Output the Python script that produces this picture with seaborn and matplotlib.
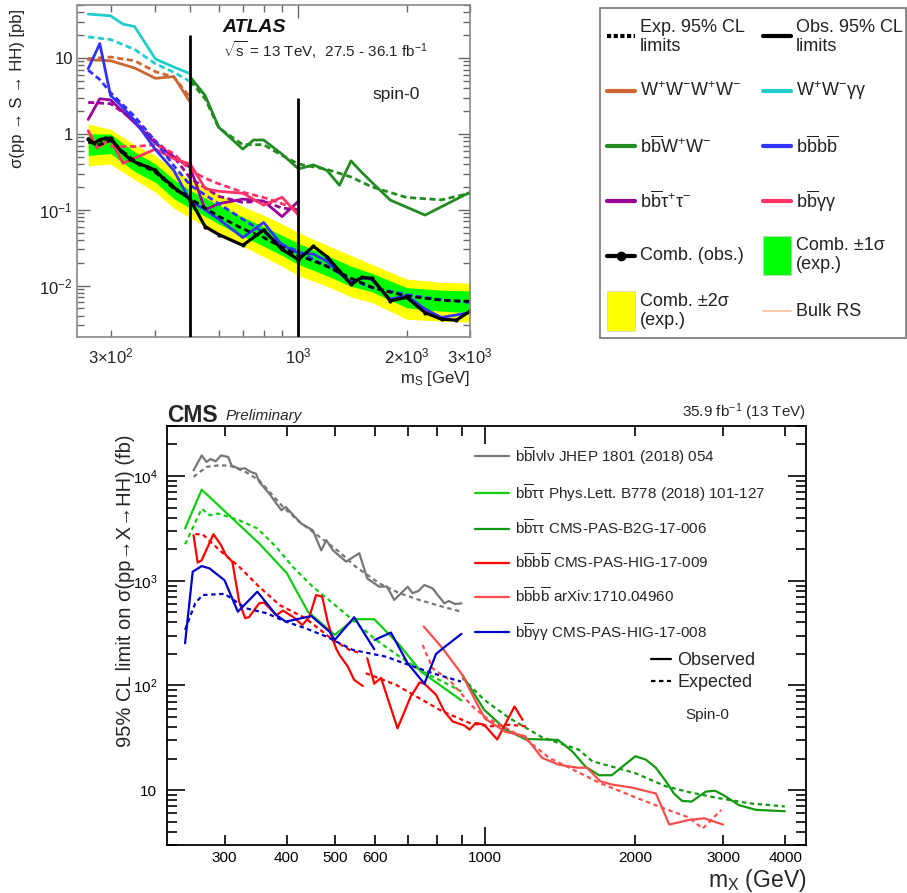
import numpy as np
import pandas as pd
import matplotlib
matplotlib.use("Agg")
import matplotlib.pyplot as plt
import seaborn as sns
from matplotlib.ticker import FixedLocator, FuncFormatter, LogLocator, NullFormatter
from matplotlib.patches import Rectangle
from matplotlib.lines import Line2D

# ---------------- ATLAS data (pb) ----------------
atlas_band_m = [260, 300, 350, 400, 450, 500, 600, 700, 800, 900, 1000, 1200, 1400, 1600, 2000, 2500, 3000]
atlas_y_hi = [1.35, 1.15, 0.72, 0.52, 0.33, 0.25, 0.16, 0.11, 0.085, 0.065, 0.050, 0.034, 0.025, 0.019, 0.0122, 0.011, 0.0108]
atlas_g_hi = [1.0, 1.0, 0.58, 0.40, 0.25, 0.18, 0.115, 0.080, 0.060, 0.046, 0.036, 0.025, 0.018, 0.0145, 0.0094, 0.0087, 0.0085]
atlas_g_lo = [0.52, 0.55, 0.32, 0.23, 0.14, 0.105, 0.065, 0.045, 0.033, 0.025, 0.019, 0.0135, 0.0098, 0.0083, 0.0051, 0.0046, 0.0044]
atlas_y_lo = [0.38, 0.40, 0.25, 0.17, 0.105, 0.078, 0.048, 0.033, 0.024, 0.018, 0.0135, 0.0098, 0.0071, 0.0060, 0.0036, 0.0034, 0.0033]

comb_exp_m = [260, 280, 300, 320, 350, 400, 450, 500, 550, 600, 700, 800, 900, 1000, 1200, 1400, 1600, 1800, 2000, 2500, 3000]
comb_exp = [0.78, 0.72, 0.82, 0.62, 0.44, 0.31, 0.19, 0.14, 0.105, 0.082, 0.056, 0.043, 0.032, 0.025, 0.018, 0.0125, 0.0095, 0.0082, 0.0073, 0.0064, 0.0062]
comb_obs_m = [260, 270, 280, 290, 300, 320, 340, 360, 380, 400, 420, 440, 460, 480, 500, 550, 600, 700, 800, 900,
              1000, 1100, 1200, 1300, 1400, 1500, 1600, 1800, 2000, 2250, 2500, 2750, 3000]
comb_obs = [0.86, 0.75, 0.84, 0.87, 0.88, 0.60, 0.46, 0.40, 0.37, 0.33, 0.26, 0.22, 0.18, 0.16, 0.135, 0.060, 0.047, 0.034, 0.054, 0.030,
            0.022, 0.033, 0.024, 0.0156, 0.0104, 0.0128, 0.0125, 0.0063, 0.0070, 0.0044, 0.0036, 0.0035, 0.0046]

wwyy_m = [260, 300, 325, 350, 400, 450, 500]
wwyy_obs = [38, 36, 28, 26, 9.7, 7.6, 6.2]
wwyy_exp_m = [260, 300, 350, 400, 450, 500]
wwyy_exp = [19, 17.5, 13, 8.4, 6.5, 4.9]

wwww_m = [260, 300, 320, 350, 400, 450, 500]
wwww_obs = [9.5, 9.2, 8.4, 7.4, 5.4, 5.7, 2.6]
wwww_exp_m = [260, 300, 350, 400, 450, 500]
wwww_exp = [9.8, 10.3, 9.2, 6.6, 5.6, 3.0]

bbww_m = [500, 550, 600, 700, 750, 800, 900, 1000, 1100, 1200, 1300, 1400, 1500, 1800, 2250, 3000]
bbww_obs = [5.6, 3.2, 1.22, 0.63, 0.83, 0.83, 0.54, 0.345, 0.39, 0.33, 0.21, 0.44, 0.31, 0.134, 0.085, 0.17]
bbww_exp_m = [500, 550, 600, 700, 800, 900, 1000, 1200, 1400, 1600, 2000, 2500, 3000]
bbww_exp = [5.0, 2.9, 1.2, 0.72, 0.72, 0.52, 0.40, 0.34, 0.27, 0.20, 0.145, 0.135, 0.165]

bbbb_m = [260, 280, 300, 320, 350, 400, 450, 500, 550, 600, 700, 800, 900, 1000, 1100, 1200, 1300, 1400, 1500, 1600, 1800, 2000, 2250, 2500, 3000]
bbbb_obs = [7.2, 15.5, 3.2, 2.4, 1.5, 0.62, 0.33, 0.13, 0.10, 0.075, 0.043, 0.068, 0.034, 0.027, 0.026, 0.021, 0.0145, 0.011, 0.0128, 0.012, 0.0066, 0.0074, 0.0049, 0.0038, 0.0044]
bbbb_exp_m = [260, 280, 300, 350, 400, 450, 500, 600, 700, 800, 900, 1000, 1200, 1400, 1600, 2000, 2500, 3000]
bbbb_exp = [6.9, 5.2, 3.5, 1.7, 0.8, 0.38, 0.21, 0.12, 0.075, 0.05, 0.035, 0.028, 0.018, 0.012, 0.0094, 0.0076, 0.0065, 0.006]

bbtt_m = [260, 280, 300, 350, 400, 450, 500, 550, 600, 700, 800, 900, 1000]
bbtt_obs = [1.55, 2.9, 2.8, 1.4, 0.75, 0.5, 0.36, 0.10, 0.12, 0.138, 0.13, 0.081, 0.13]
bbtt_exp_m = [260, 300, 350, 400, 450, 500, 600, 700, 800, 900, 1000]
bbtt_exp = [2.6, 2.5, 1.5, 0.8, 0.5, 0.26, 0.15, 0.125, 0.13, 0.105, 0.10]

bbyy_m = [260, 275, 300, 325, 400, 450, 500, 550, 600, 700, 800, 900, 1000]
bbyy_obs = [1.1, 0.65, 0.85, 0.41, 0.63, 0.47, 0.40, 0.19, 0.175, 0.165, 0.115, 0.146, 0.085]
bbyy_exp_m = [300, 350, 400, 450, 500, 550, 600, 700, 800, 900, 1000]
bbyy_exp = [0.68, 0.68, 0.72, 0.55, 0.33, 0.26, 0.22, 0.17, 0.145, 0.12, 0.10]

atlas_div_m = [500, 1000]
atlas_div_top = [20, 3]

# ---------------- CMS data (fb) ----------------
blv_m = [260, 270, 276, 281, 288, 295, 305, 310, 321, 330, 339, 347, 352, 369, 390, 398, 427, 451, 469, 480, 495, 526, 559, 580,
         613, 635, 657, 678, 699, 715, 735, 755, 784, 828, 845, 870, 896]
blv_obs = [11300, 15700, 13600, 14500, 13800, 15700, 15200, 12600, 11700, 11800, 10900, 10500, 8800, 6760, 4710, 5060, 3530, 3030,
           1950, 2440, 1950, 1520, 1830, 1050, 876, 880, 656, 760, 876, 760, 800, 910, 846, 608, 640, 600, 608]
blv_exp_m = [260, 276, 291, 307, 331, 352, 393, 424, 465, 510, 550, 613, 673, 738, 821, 896]
blv_exp = [9800, 12200, 12600, 12600, 10900, 9100, 5060, 3650, 2630, 1880, 1360, 944, 760, 655, 565, 506]

tt1_m = [250, 270, 352, 400, 441, 499, 546, 599, 673, 743, 896]
tt1_obs = [3160, 7400, 2270, 1180, 506, 304, 429, 429, 244, 136, 72]
tt1_exp_m = [250, 270, 280, 291, 321, 349, 381, 411, 451, 495, 542, 604, 673, 749, 834, 896]
tt1_exp = [2230, 4870, 4220, 4380, 3780, 3160, 2100, 1360, 876, 608, 423, 272, 189, 136, 105, 88]

tt2_m = [900, 995, 1100, 1200, 1400, 1495, 1591, 1692, 1794, 2000, 2100, 2199, 2303, 2391, 2483, 2595, 2770, 2890, 3015, 3230, 3490, 3990]
tt2_obs = [126, 58.7, 37.9, 30.9, 30.2, 23.5, 16.7, 13.9, 13.9, 21.1, 19.6, 16.4, 12.2, 9.3, 7.9, 7.8, 9.7, 9.9, 8.9, 7.2, 6.5, 6.3]
tt2_exp_m = [900, 995, 1117, 1300, 1540, 1640, 1830, 2003, 2303, 2560, 2900, 3380, 3990]
tt2_exp = [118, 73, 49, 32, 24.4, 18.9, 16.4, 14.5, 10.9, 9.6, 8.5, 7.5, 7.0]

b4a_m1 = [260, 265, 270, 285, 295, 302, 311, 321, 330, 336, 352, 360, 381, 393, 411, 430, 444, 458, 471, 483, 495, 502, 510, 530, 546, 568]
b4a_obs1 = [2720, 1490, 1570, 2780, 2200, 1750, 1520, 630, 439, 450, 608, 620, 470, 518, 454, 378, 454, 730, 705, 407, 272, 227, 196, 152, 113, 99]
b4a_m2 = [580, 599, 618, 667, 709, 727, 738, 755, 797, 828, 860, 909, 930, 958, 995, 1057, 1145, 1188]
b4a_obs2 = [182, 104, 118, 39, 78.6, 94.5, 107, 104, 81.6, 56.6, 45.4, 41.4, 37.9, 43.9, 42.2, 30.5, 63, 47]
b4a_exp_m1 = [262, 271, 293, 321, 352, 387, 424, 436, 495, 534, 563]
b4a_exp1 = [2780, 2780, 1960, 1360, 876, 585, 470, 439, 272, 219, 203]
b4a_exp_m2 = [576, 662, 727, 821, 930, 1018, 1117, 1207]
b4a_exp2 = [131, 101.6, 78.6, 56.6, 43.9, 40.7, 42.2, 40.7]

b4b_m = [753, 821, 900, 958, 1000, 1100, 1200, 1300, 1400, 1530, 1600, 1700, 1800, 1970, 2200, 2340, 2560, 2750, 3000]
b4b_obs = [365, 227, 126, 70, 48, 36, 33, 20.4, 17.6, 16.4, 16.4, 12.2, 11.3, 10.6, 9.3, 4.7, 5.2, 5.4, 4.7]
b4b_exp_m = [749, 784, 847, 943, 1000, 1197, 1343, 1474, 1692, 1971, 2265, 2560, 2730, 2976]
b4b_exp = [244, 146, 113, 63, 50, 31.6, 20.4, 16.4, 11.8, 8.8, 6.8, 5.5, 4.3, 6.5]

byy_m1 = [250, 259, 270, 280, 300, 319, 349, 381, 398, 448, 487, 499, 546, 599]
byy_obs1 = [253, 1220, 1380, 1310, 1010, 506, 786, 470, 407, 460, 327, 272, 448, 222]
byy_m2 = [600, 647, 699, 755, 797, 828, 896]
byy_obs2 = [272, 320, 163, 104, 200, 232, 311]
byy_exp_m = [250, 262, 271, 300, 331, 364, 398, 436, 480, 542, 633, 673, 784, 894]
byy_exp = [340, 608, 730, 750, 546, 490, 407, 352, 293, 219, 188, 169, 131, 109]

# ---------------- style ----------------
sns.set_theme(style="ticks")
plt.rcParams['font.family'] = ['Liberation Sans', 'DejaVu Sans']
plt.rcParams['mathtext.fontset'] = 'custom'
plt.rcParams['mathtext.rm'] = 'Liberation Sans'
plt.rcParams['mathtext.it'] = 'Liberation Sans:italic'
plt.rcParams['mathtext.bf'] = 'Liberation Sans:bold'
plt.rcParams['mathtext.sf'] = 'Liberation Sans'
plt.rcParams['axes.facecolor'] = 'white'

W, H = 907, 893
fig = plt.figure(figsize=(W / 100, H / 100), dpi=100)


def fx(p):
    return p / W


def fy(p):
    return 1 - p / H


def line(ax, x, y, color, ls='-', lw=2.0, **kw):
    sns.lineplot(x=x, y=y, ax=ax, color=color, linestyle=ls, linewidth=lw,
                 estimator=None, sort=False, legend=False, **kw)


BB = r'$\mathrm{b\overline{b}}$'
BBBB = r'$\mathrm{b\overline{b}b\overline{b}}$'

# ============ ATLAS panel ============
ax1 = fig.add_axes([fx(77), fy(337), fx(470) - fx(77), fy(5) - fy(337)])
ax1.set_xscale('log')
ax1.set_yscale('log')

C_WWWW = '#cc6633'
C_WWYY = '#22cccc'
C_BBWW = '#228b22'
C_BBBB = '#3333ff'
C_BBTT = '#990099'
C_BBYY = '#ff3366'

ax1.fill_between(atlas_band_m, atlas_y_lo, atlas_y_hi, color='#ffff00', lw=0, zorder=1)
ax1.fill_between(atlas_band_m, atlas_g_lo, atlas_g_hi, color='#00ff00', lw=0, zorder=1)

ad = (0, (2.2, 1.3))
alw = 2.0
line(ax1, wwyy_m, wwyy_obs, C_WWYY, lw=alw)
line(ax1, wwyy_exp_m, wwyy_exp, C_WWYY, ls=ad, lw=alw)
line(ax1, wwww_m, wwww_obs, C_WWWW, lw=alw)
line(ax1, wwww_exp_m, wwww_exp, C_WWWW, ls=ad, lw=alw)
line(ax1, bbww_m, bbww_obs, C_BBWW, lw=alw)
line(ax1, bbww_exp_m, bbww_exp, C_BBWW, ls=ad, lw=alw)
line(ax1, bbtt_m, bbtt_obs, C_BBTT, lw=alw)
line(ax1, bbtt_exp_m, bbtt_exp, C_BBTT, ls=ad, lw=alw)
line(ax1, bbyy_m, bbyy_obs, C_BBYY, lw=alw)
line(ax1, bbyy_exp_m, bbyy_exp, C_BBYY, ls=ad, lw=alw)
line(ax1, bbbb_m, bbbb_obs, C_BBBB, lw=alw)
line(ax1, bbbb_exp_m, bbbb_exp, C_BBBB, ls=ad, lw=alw)
line(ax1, comb_exp_m, comb_exp, 'black', ls=ad, lw=alw)
line(ax1, comb_obs_m, comb_obs, 'black', lw=2.3, marker='o', markersize=3, markeredgewidth=0)

ax1.set_xlim(242, 3000)
ax1.set_ylim(0.0021, 50)
ax1.vlines(atlas_div_m, ax1.get_ylim()[0], atlas_div_top, color='black', lw=2, zorder=5)

ax1.xaxis.set_major_locator(FixedLocator([1000]))
ax1.xaxis.set_major_formatter(FuncFormatter(lambda v, p: r'10$^{3}$'))
ax1.xaxis.set_minor_locator(FixedLocator([300, 400, 500, 600, 700, 800, 900, 2000, 3000]))
xl_atlas = {300: r'3×10$^{2}$', 2000: r'2×10$^{3}$', 3000: r'3×10$^{3}$'}
ax1.xaxis.set_minor_formatter(FuncFormatter(lambda v, p: xl_atlas.get(int(round(v)), '')))
ax1.yaxis.set_major_locator(LogLocator(base=10, numticks=10))
yl_atlas = {-2: r'10$^{-2}$', -1: r'10$^{-1}$', 0: '1', 1: '10'}
ax1.yaxis.set_major_formatter(FuncFormatter(lambda v, p: yl_atlas.get(int(round(np.log10(v))), '')))
ax1.yaxis.set_minor_locator(LogLocator(base=10, subs=np.arange(2, 10), numticks=20))
ax1.yaxis.set_minor_formatter(NullFormatter())
ax1.tick_params(which='both', direction='in', top=True, right=True, color='#666666',
                labelcolor='#222222', labelsize=12)
ax1.tick_params(which='major', length=9, width=1)
ax1.tick_params(which='minor', length=5, width=1)
ax1.tick_params(axis='x', which='both', pad=7)
ax1.tick_params(axis='y', which='both', pad=3)
for s in ax1.spines.values():
    s.set_color('#888888')
    s.set_linewidth(1.2)
ax1.set_xlabel('')
ax1.set_ylabel('σ(pp → S → HH) [pb]', fontsize=12, color='#222222')
ax1.yaxis.set_label_coords(-0.133, 0.75)
fig.text(fx(470), fy(378), r'm$_{\mathrm{S}}$ [GeV]', ha='right', va='center', fontsize=12, color='#222222')
fig.text(fx(222), fy(27), 'ATLAS', ha='left', va='center', fontsize=14, fontweight='bold', fontstyle='italic', color='#111111')
fig.text(fx(223), fy(50), r'$\sqrt{\mathrm{s}}$ = 13 TeV,  27.5 - 36.1 fb$^{-1}$', ha='left', va='center', fontsize=11, color='#222222')
fig.text(fx(372), fy(95), 'spin-0', ha='left', va='center', fontsize=12.5, color='#222222')

# ============ ATLAS legend (separate box) ============
fig.add_artist(Rectangle((fx(600), fy(338)), fx(906) - fx(600), fy(8) - fy(338),
                         transform=fig.transFigure, fill=False, ec='#777777', lw=1.2))


def leg_line(x0, yc, color, ls='-', lw=3.0, marker=None):
    fig.add_artist(Line2D([fx(x0), fx(x0 + 28)], [fy(yc), fy(yc)], transform=fig.transFigure,
                          color=color, linestyle=ls, linewidth=lw))
    if marker:
        fig.add_artist(Line2D([fx(x0 + 14)], [fy(yc)], transform=fig.transFigure, color=color,
                              marker=marker, markersize=6, linestyle='none'))


def leg_patch(x0, y0, y1, color):
    fig.add_artist(Rectangle((fx(x0), fy(y1)), fx(x0 + 28) - fx(x0), fy(y0) - fy(y1),
                             transform=fig.transFigure, color=color, ec='#cccccc', lw=0.5))


def leg_text(x0, yc, s):
    fig.text(fx(x0), fy(yc), s, ha='left', va='center', fontsize=13, color='#222222', linespacing=1.2)


c1, c2 = 607, 763
leg_line(c1, 36, 'black', ls=(0, (1, 0.6)), lw=3)
leg_text(c1 + 33, 37, 'Exp. 95% CL\nlimits')
leg_line(c2, 36, 'black', lw=3)
leg_text(c2 + 33, 37, 'Obs. 95% CL\nlimits')
leg_line(c1, 91, C_WWWW)
leg_text(c1 + 33, 91, r'W$^{+}$W$^{-}$W$^{+}$W$^{-}$')
leg_line(c2, 91, C_WWYY)
leg_text(c2 + 33, 91, r'W$^{+}$W$^{-}$γγ')
leg_line(c1, 146, C_BBWW)
leg_text(c1 + 33, 146, BB + r'W$^{+}$W$^{-}$')
leg_line(c2, 146, C_BBBB)
leg_text(c2 + 33, 146, BBBB)
leg_line(c1, 201, C_BBTT)
leg_text(c1 + 33, 201, BB + r'τ$^{+}$τ$^{-}$')
leg_line(c2, 201, C_BBYY)
leg_text(c2 + 33, 201, BB + 'γγ')
leg_line(c1, 256, 'black', marker='o')
leg_text(c1 + 33, 256, 'Comb. (obs.)')
leg_patch(c2, 236, 275, '#00ff00')
leg_text(c2 + 33, 255, 'Comb. ±1σ\n(exp.)')
leg_patch(c1, 291, 331, '#ffff00')
leg_text(c1 + 33, 311, 'Comb. ±2σ\n(exp.)')
leg_line(c2, 311, '#ffbb99', lw=1.2)
leg_text(c2 + 33, 311, 'Bulk RS')

# ============ CMS panel ============
ax2 = fig.add_axes([fx(167), fy(845), fx(806) - fx(167), fy(426) - fy(845)])
ax2.set_xscale('log')
ax2.set_yscale('log')

C_GRAY = '#777777'
C_LG = '#11cc11'
C_DG = '#119911'
C_RED = '#ff0000'
C_LRED = '#ff4d4d'
C_BLUE = '#0000cc'
cd = (0, (2.0, 1.6))
clw = 1.6

line(ax2, blv_m, blv_obs, C_GRAY, lw=clw)
line(ax2, blv_exp_m, blv_exp, C_GRAY, ls=cd, lw=clw)
line(ax2, tt1_m, tt1_obs, C_LG, lw=clw)
line(ax2, tt1_exp_m, tt1_exp, C_LG, ls=cd, lw=clw)
line(ax2, tt2_m, tt2_obs, C_DG, lw=clw)
line(ax2, tt2_exp_m, tt2_exp, C_DG, ls=cd, lw=clw)
line(ax2, b4a_m1, b4a_obs1, C_RED, lw=clw)
line(ax2, b4a_m2, b4a_obs2, C_RED, lw=clw)
line(ax2, b4a_exp_m1, b4a_exp1, C_RED, ls=cd, lw=clw)
line(ax2, b4a_exp_m2, b4a_exp2, C_RED, ls=cd, lw=clw)
line(ax2, b4b_m, b4b_obs, C_LRED, lw=clw)
line(ax2, b4b_exp_m, b4b_exp, C_LRED, ls=cd, lw=clw)
line(ax2, byy_m1, byy_obs1, C_BLUE, lw=clw)
line(ax2, byy_m2, byy_obs2, C_BLUE, lw=clw)
line(ax2, byy_exp_m, byy_exp, C_BLUE, ls=cd, lw=clw)

ax2.set_xlim(230, 4400)
ax2.set_ylim(3, 30000)
ax2.xaxis.set_major_locator(FixedLocator([1000]))
ax2.xaxis.set_major_formatter(FuncFormatter(lambda v, p: '1000'))
ax2.xaxis.set_minor_locator(FixedLocator([300, 400, 500, 600, 700, 800, 900, 2000, 3000, 4000]))
xl_cms = {300: '300', 400: '400', 500: '500', 600: '600', 2000: '2000', 3000: '3000', 4000: '4000'}
ax2.xaxis.set_minor_formatter(FuncFormatter(lambda v, p: xl_cms.get(int(round(v)), '')))
ax2.yaxis.set_major_locator(LogLocator(base=10, numticks=10))
yl_cms = {1: '10', 2: r'10$^{2}$', 3: r'10$^{3}$', 4: r'10$^{4}$'}
ax2.yaxis.set_major_formatter(FuncFormatter(lambda v, p: yl_cms.get(int(round(np.log10(v))), '')))
ax2.yaxis.set_minor_locator(LogLocator(base=10, subs=np.arange(2, 10), numticks=20))
ax2.yaxis.set_minor_formatter(NullFormatter())
ax2.tick_params(which='both', direction='in', top=True, right=True, color='black',
                labelcolor='black', labelsize=11)
ax2.tick_params(which='major', length=13, width=1.2)
ax2.tick_params(which='minor', length=7, width=1.2)
ax2.tick_params(axis='x', which='both', pad=4)
ax2.tick_params(axis='y', which='both', pad=7)
for s in ax2.spines.values():
    s.set_color('black')
    s.set_linewidth(1.3)
ax2.set_xlabel('')
ax2.set_ylabel('95% CL limit on σ(pp→X→HH) (fb)', fontsize=14.5)
ax2.yaxis.set_label_coords(-0.05, 0.606)
fig.text(fx(806), fy(880), r'm$_{\mathrm{X}}$ (GeV)', ha='right', va='center', fontsize=16.5)
fig.text(fx(167), fy(415), 'CMS', ha='left', va='center', fontsize=16.5, fontweight='bold')
fig.text(fx(226), fy(416), 'Preliminary', ha='left', va='center', fontsize=11, fontstyle='italic')
fig.text(fx(806), fy(412), r'35.9 fb$^{-1}$ (13 TeV)', ha='right', va='center', fontsize=11)

cms_handles = [Line2D([], [], color=C_GRAY, lw=clw), Line2D([], [], color=C_LG, lw=clw),
               Line2D([], [], color=C_DG, lw=clw), Line2D([], [], color=C_RED, lw=clw),
               Line2D([], [], color=C_LRED, lw=clw), Line2D([], [], color=C_BLUE, lw=clw)]
cms_labels = [BB + 'lνlν JHEP 1801 (2018) 054',
              BB + 'ττ Phys.Lett. B778 (2018) 101-127',
              BB + 'ττ CMS-PAS-B2G-17-006',
              BBBB + ' CMS-PAS-HIG-17-009',
              BBBB + ' arXiv:1710.04960',
              BB + 'γγ CMS-PAS-HIG-17-008']
leg1 = ax2.legend(cms_handles, cms_labels, loc='upper left',
                  bbox_to_anchor=((475 - 167) / 639, 1 - (445 - 426) / 419),
                  frameon=False, fontsize=11, labelspacing=0.98, handlelength=2.2,
                  handletextpad=0.45, borderpad=0, borderaxespad=0)
ax2.add_artist(leg1)
oe_handles = [Line2D([], [], color='black', lw=1.6), Line2D([], [], color='black', lw=1.6, ls=(0, (2, 1.6)))]
ax2.legend(oe_handles, ['Observed', 'Expected'], loc='upper left',
           bbox_to_anchor=((651 - 167) / 639, 1 - (652 - 426) / 419),
           frameon=False, fontsize=13, labelspacing=0.3, handlelength=1.1,
           handletextpad=0.35, borderpad=0, borderaxespad=0)
ax2.text((707 - 167) / 639, 1 - (715 - 426) / 419, 'Spin-0', transform=ax2.transAxes,
         ha='center', va='center', fontsize=11)

fig.savefig('out.png', dpi=100, facecolor='white')
